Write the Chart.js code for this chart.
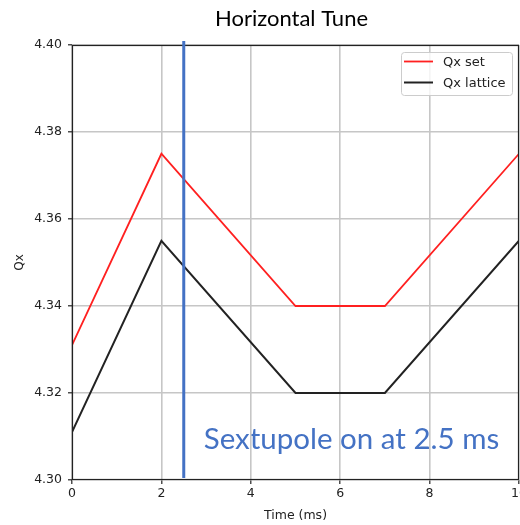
<!DOCTYPE html>
<html>
<head>
<meta charset="utf-8">
<script src="https://cdn.jsdelivr.net/npm/chart.js@4/dist/chart.umd.min.js"></script>
<style>
  html, body { margin: 0; padding: 0; background: #fff; }
  #wrap { width: 520px; height: 525px; position: relative; }
</style>
</head>
<body>
<div id="wrap"><canvas id="c" width="520" height="525"></canvas></div>
<script>
// Tune vs time, in milliseconds
const timeMs = [0, 2, 5, 7, 10];
const qxSet = [4.331, 4.375, 4.340, 4.340, 4.375];
const qxLattice = [4.311, 4.355, 4.320, 4.320, 4.355];

const xTicks = [0, 2, 4, 6, 8, 10];
const yTicks = [4.30, 4.32, 4.34, 4.36, 4.38, 4.40];

const sextupoleOnMs = 2.5;
const chartTitle = 'Horizontal Tune';
const noteText = 'Sextupole on at 2.5 ms';

const tickFont = { family: 'DejaVu Sans', size: 12.5 };
const blue = '#4472C4';

function pairs(xs, ys) { return xs.map((x, i) => ({ x, y: ys[i] })); }

const decorations = {
  id: 'decorations',
  beforeDraw(chart) {
    const { ctx, chartArea: a, scales } = chart;
    ctx.save();
    // title
    ctx.fillStyle = '#000';
    ctx.font = '22px Lato';
    ctx.textAlign = 'center';
    ctx.textBaseline = 'alphabetic';
    ctx.fillText(chartTitle, (a.left + a.right) / 2 - 4, 26);
    // note text, sitting under the grid
    ctx.fillStyle = blue;
    ctx.font = '29.5px Lato';
    ctx.textAlign = 'left';
    ctx.fillText(noteText, scales.x.getPixelForValue(sextupoleOnMs) + 20, 449);
    ctx.restore();
  },
  afterDraw(chart) {
    const { ctx, chartArea: a, scales } = chart;
    ctx.save();
    // frame
    ctx.strokeStyle = '#222';
    ctx.lineWidth = 1.2;
    ctx.strokeRect(a.left + 0.5, a.top + 0.5, a.right - a.left - 1, a.bottom - a.top - 1);
    // sextupole marker
    const xp = scales.x.getPixelForValue(sextupoleOnMs);
    ctx.strokeStyle = blue;
    ctx.lineWidth = 3;
    ctx.beginPath();
    ctx.moveTo(xp, a.top - 4);
    ctx.lineTo(xp, a.bottom - 2);
    ctx.stroke();
    // legend
    const bx = 401, by = 52, bw = 111, bh = 43;
    ctx.fillStyle = 'rgba(255,255,255,0.8)';
    ctx.strokeStyle = '#cccccc';
    ctx.lineWidth = 1;
    ctx.beginPath();
    ctx.roundRect(bx + 0.5, by + 0.5, bw, bh, 3);
    ctx.fill();
    ctx.stroke();
    ctx.font = '13px "DejaVu Sans"';
    ctx.textAlign = 'left';
    ctx.textBaseline = 'middle';
    chart.data.datasets.forEach((ds, i) => {
      const ly = by + 9.5 + i * 21;
      ctx.strokeStyle = ds.borderColor;
      ctx.lineWidth = ds.borderWidth;
      ctx.beginPath();
      ctx.moveTo(bx + 3, ly);
      ctx.lineTo(bx + 32, ly);
      ctx.stroke();
      ctx.fillStyle = '#222';
      ctx.fillText(ds.label, bx + 42, ly + 1);
    });
    ctx.restore();
  }
};

const gridStyle = { color: '#c6c6c6', lineWidth: 1.6, tickColor: '#222', tickWidth: 1.2, tickLength: 4, drawTicks: true };

new Chart(document.getElementById('c'), {
  type: 'line',
  data: {
    datasets: [
      { label: 'Qx set', data: pairs(timeMs, qxSet), borderColor: '#ff2020', borderWidth: 1.8, pointRadius: 0, tension: 0 },
      { label: 'Qx lattice', data: pairs(timeMs, qxLattice), borderColor: '#222222', borderWidth: 2, pointRadius: 0, tension: 0 }
    ]
  },
  options: {
    responsive: false,
    animation: false,
    events: [],
    layout: { padding: { top: 45, right: 1, left: 0, bottom: 0 } },
    plugins: { legend: { display: false }, title: { display: false }, tooltip: { enabled: false } },
    scales: {
      x: {
        type: 'linear', min: 0, max: 10,
        afterBuildTicks(s) { s.ticks = xTicks.map(v => ({ value: v })); },
        afterFit(s) { s.height = 45; s.paddingLeft = 0; s.paddingRight = 0; },
        ticks: { font: tickFont, color: '#222', padding: 2, maxRotation: 0, autoSkip: false, callback: v => String(v) },
        grid: gridStyle,
        border: { display: false },
        title: { display: true, text: 'Time (ms)', font: tickFont, color: '#222', padding: { top: 0, bottom: 1.5 } }
      },
      y: {
        type: 'linear', min: 4.30, max: 4.40,
        afterBuildTicks(s) { s.ticks = yTicks.map(v => ({ value: v })); },
        afterFit(s) { s.width = 72; s.paddingTop = 0; s.paddingBottom = 0; },
        ticks: { font: tickFont, color: '#222', padding: 6, autoSkip: false, callback: v => Number(v).toFixed(2) },
        grid: gridStyle,
        border: { display: false },
        title: { display: true, text: 'Qx', font: { family: 'DejaVu Sans', size: 12 }, color: '#222', padding: { top: 13, bottom: 0 } }
      }
    }
  },
  plugins: [decorations]
});
</script>
</body>
</html>
